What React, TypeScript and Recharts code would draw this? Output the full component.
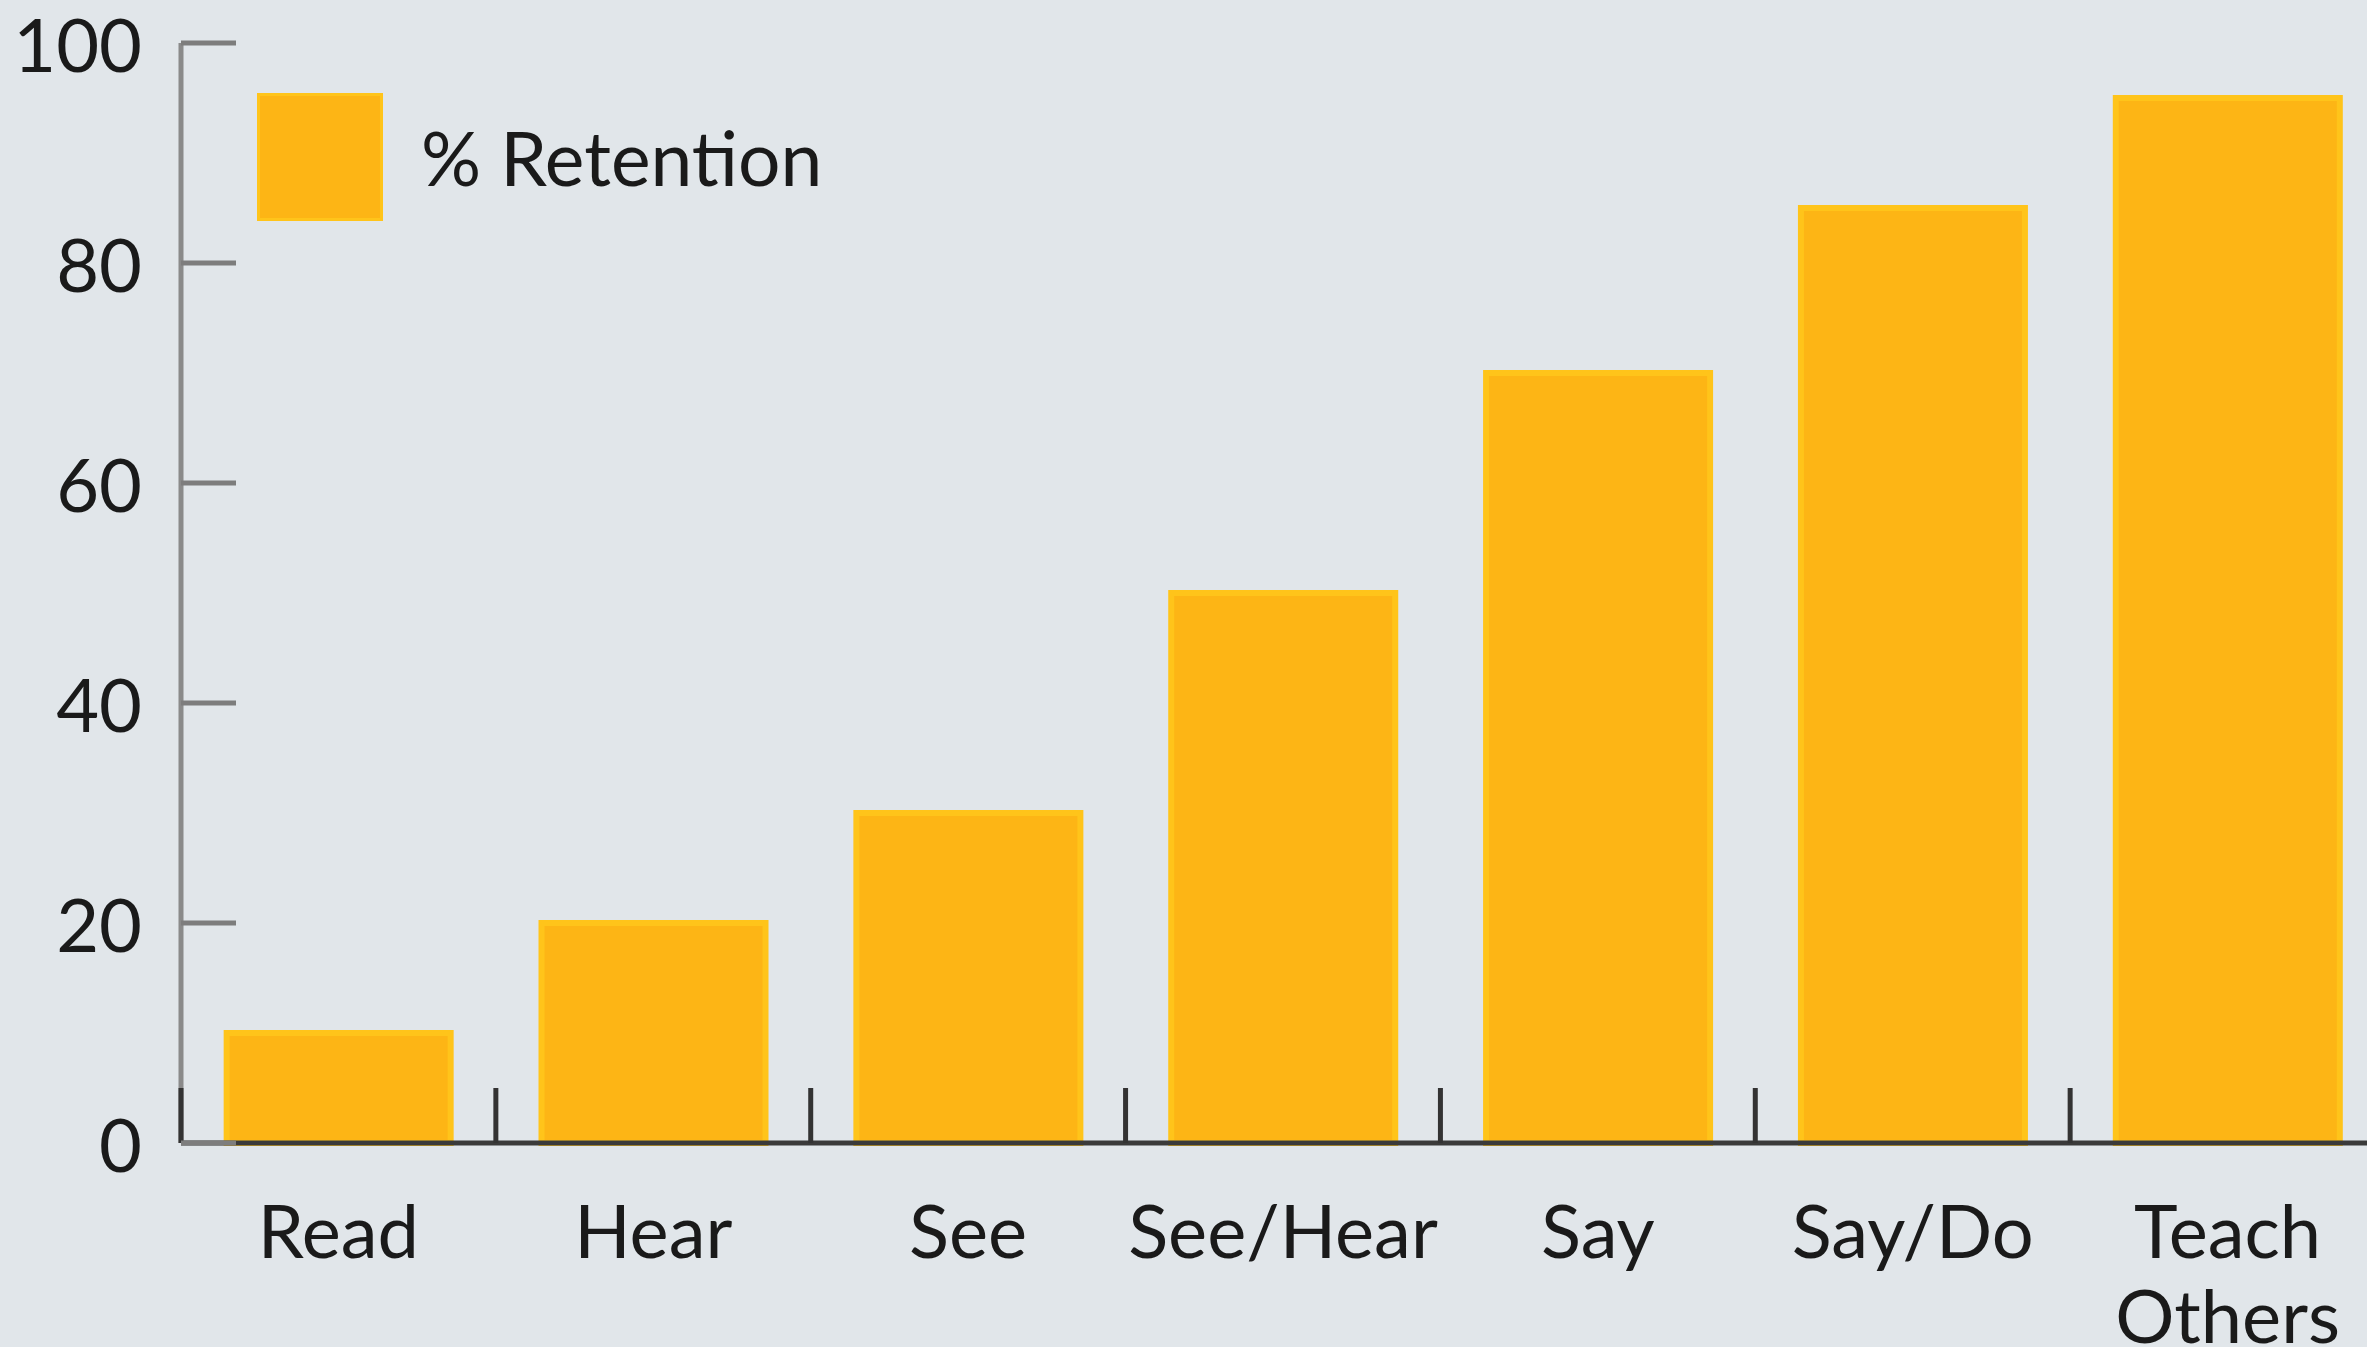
import { BarChart, Bar, XAxis, YAxis, Legend } from "recharts";

const categories = ["Read", "Hear", "See", "See/Hear", "Say", "Say/Do", "Teach Others"];
const retention = [10, 20, 30, 50, 70, 85, 95];
const yTicks = [0, 20, 40, 60, 80, 100];
const seriesName = "% Retention";

const data = categories.map((name, i) => ({ name, retention: retention[i] }));

const FONT = "Lato, 'Noto Sans', sans-serif";
const TEXT = "#1a1a1a";
const BAR_FILL = "#FDB515";
const BAR_EDGE = "#FFC41A";

// plot area: left 181, 7 bands of ~315 px (last band runs past the right edge)
const CHART_W = 2400;
const CHART_H = 1347;
const PLOT_LEFT = 181;
const PLOT_RIGHT_MARGIN = 15;
const BAND = (CHART_W - PLOT_LEFT - PLOT_RIGHT_MARGIN) / categories.length;

const YTick = (props: any) => {
  const { x, y, payload } = props;
  return (
    <g>
      <line x1={x} x2={x + 55} y1={y} y2={y} stroke="#7d7d7d" strokeWidth={5} />
      <text
        x={x - 39}
        y={y}
        textAnchor="end"
        dominantBaseline="central"
        fontSize={74}
        fontFamily={FONT}
        fill={TEXT}
      >
        {payload.value}
      </text>
    </g>
  );
};

const XTick = (props: any) => {
  const { x, y, payload } = props;
  const lines = String(payload.value).split(" ");
  const edge = x - BAND / 2;
  return (
    <g>
      <line x1={edge} x2={edge} y1={y} y2={y - 55} stroke="#333" strokeWidth={5} />
      <text x={x} y={y + 115} textAnchor="middle" fontSize={74} fontFamily={FONT} fill={TEXT}>
        {lines.map((l, i) => (
          <tspan key={i} x={x} dy={i === 0 ? 0 : 85}>
            {l}
          </tspan>
        ))}
      </text>
    </g>
  );
};

const LegendBox = () => (
  <div style={{ display: "flex", alignItems: "center", fontFamily: FONT }}>
    <div
      style={{
        width: 120,
        height: 122,
        background: BAR_FILL,
        border: `3px solid ${BAR_EDGE}`,
      }}
    />
    <span style={{ marginLeft: 38, fontSize: 75, color: TEXT, lineHeight: 1 }}>{seriesName}</span>
  </div>
);

export default function App() {
  return (
    <div
      style={{
        position: "absolute",
        left: 0,
        top: 0,
        width: 2367,
        height: 1347,
        overflow: "hidden",
        background: "#E1E6EA",
      }}
    >
      <BarChart
        width={CHART_W}
        height={CHART_H}
        data={data}
        margin={{ top: 43, right: PLOT_RIGHT_MARGIN, bottom: 0, left: 0 }}
        barCategoryGap="14.5%"
      >
        <XAxis
          dataKey="name"
          interval={0}
          height={204}
          tickSize={0}
          tickMargin={0}
          tick={<XTick />}
          axisLine={{ stroke: "#3a3a3a", strokeWidth: 5 }}
        />
        <YAxis
          domain={[0, 100]}
          ticks={yTicks}
          width={PLOT_LEFT}
          tickSize={0}
          tickMargin={0}
          tick={<YTick />}
          axisLine={{ stroke: "#8a8a8a", strokeWidth: 5 }}
        />
        <Legend
          layout="vertical"
          align="center"
          verticalAlign="middle"
          content={<LegendBox />}
          wrapperStyle={{ left: 257, top: 93, width: "auto", height: "auto" }}
        />
        <Bar
          dataKey="retention"
          name={seriesName}
          fill={BAR_FILL}
          stroke={BAR_EDGE}
          strokeWidth={6}
          isAnimationActive={false}
        />
      </BarChart>
    </div>
  );
}
